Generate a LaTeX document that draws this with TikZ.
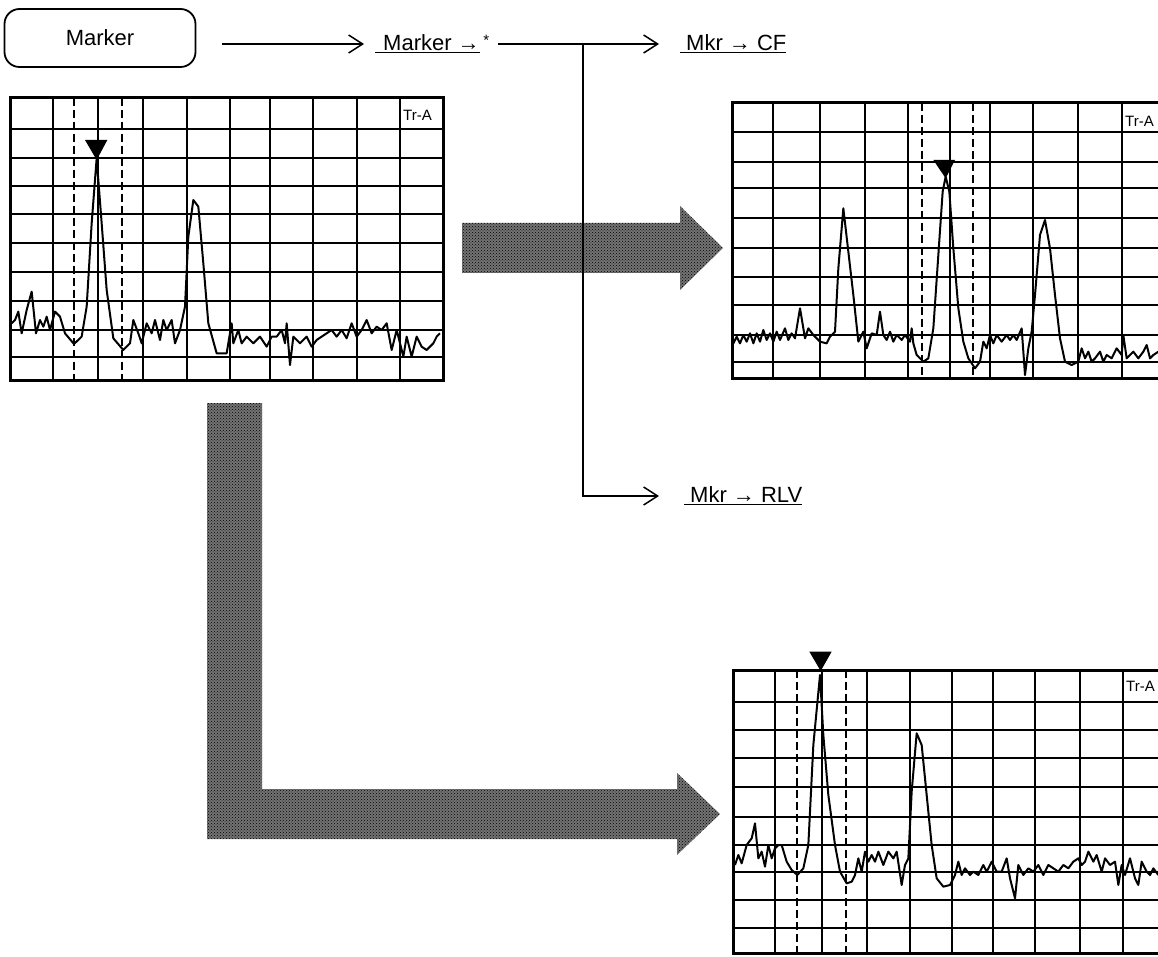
\documentclass[tikz,border=0pt]{standalone}
\usepackage{fontspec}
\setmainfont{Liberation Sans}
\usetikzlibrary{arrows.meta,patterns}
\begin{document}
\begin{tikzpicture}[x=1pt,y=-1pt,
  lbl/.style={font=\fontsize{22}{26}\selectfont, inner sep=0pt, anchor=west},
  mbox/.style={draw, line width=1.8pt, rounded corners=15pt, minimum width=191pt, minimum height=58pt, font=\fontsize{22}{26}\selectfont},
  conn/.style={line width=1.5pt},
  arr/.style={conn, -{Straight Barb[length=14pt,width=18pt,line width=1.5pt]}},
  gridline/.style={line width=2.6pt},
  frame/.style={line width=3pt},
  trace/.style={line width=2pt, line join=round},
  mk/.style={line width=2.4pt, dash pattern=on 8pt off 4pt},
  tra/.style={font=\fontsize{15}{17}\selectfont, inner sep=0pt, anchor=west},
  fat/.style={fill=black!55},
  fattex/.style={pattern=crosshatch dots, pattern color=black}
]
\clip (0,0) rectangle (1158,957);
\fill[white] (0,0) rectangle (1158,957);

% ---------- top row ----------
\node[mbox] (marker) at (100,38) {Marker};
\node[lbl] (mstar) at (375,44) {\underline{\hspace{8pt}Marker →}\,\raisebox{5pt}{\fontsize{15}{17}\selectfont *}};
\node[lbl] (cf) at (680,44) {\underline{\hspace{6pt}Mkr → CF}};
\node[lbl] (rlv) at (684,496) {\underline{\hspace{6pt}Mkr → RLV}};
\coordinate (br) at (583,44);

\draw[arr, shorten <=26pt, shorten >=11pt] (marker.east |- mstar.west) -- (mstar.west);
\draw[conn, shorten <=9pt] (mstar.east) -- (br);
\draw[arr, shorten >=21pt] (br) -- (br -| cf.west);
\draw[arr, shorten >=25pt] (br) |- (rlv.west);

% ---------- fat arrows ----------
\def\fatA{(462,223) -- (680,223) -- (680,206) -- (723,248) -- (680,290) -- (680,273) -- (462,273) -- cycle}
\def\fatB{(207,403) -- (262,403) -- (262,789) -- (677,789) -- (677,773) -- (720,814) -- (677,855) -- (677,839) -- (207,839) -- cycle}
\fill[fat] \fatA;
\fill[fattex] \fatA;
\fill[fat] \fatB;
\fill[fattex] \fatB;
% vertical connector passes over the fat arrow
\draw[conn] (583,200) -- (583,300);

% ---------- graph 1 ----------
\foreach \x in {53,98,143,187,230,270,313,357,400}
  \draw[gridline] (\x,98) -- (\x,380);
\foreach \y in {129,158,186,214,243,272,301,330,357}
  \draw[gridline] (10,\y) -- (443,\y);
\draw[frame] (10,98) rectangle (443,380);
\draw[mk] (74,98) -- (74,380);
\draw[mk] (122,98) -- (122,380);
\node[tra] (tra1) at (403,115) {Tr-A};
\begin{scope}[shift={(0,90)}, scale=1/3]
\draw[trace] (35,700) -- (45,690) -- (55,665) -- (65,730) -- (80,660) -- (95,605) -- (108,730) -- (120,690) -- (130,710) -- (140,680) -- (150,720) -- (165,665) -- (180,680) -- (195,730) -- (222,762) -- (245,740) -- (260,650) -- (275,400) -- (290,205) -- (305,400) -- (320,600) -- (340,745) -- (370,780) -- (390,760) -- (400,690) -- (415,730) -- (425,760) -- (440,700) -- (455,730) -- (465,690) -- (480,750) -- (490,690) -- (500,720) -- (515,690) -- (525,760) -- (540,720) -- (555,650) -- (565,440) -- (580,330) -- (595,350) -- (610,520) -- (625,700) -- (650,790) -- (680,790) -- (695,700) -- (700,760) -- (715,720) -- (725,760) -- (740,740) -- (760,760) -- (780,740) -- (800,770) -- (815,740) -- (830,740) -- (845,720) -- (855,760) -- (860,700) -- (870,825) -- (880,740) -- (900,760) -- (920,740) -- (935,770) -- (950,750) -- (965,740) -- (980,730) -- (995,720) -- (1010,740) -- (1025,720) -- (1040,745) -- (1055,700) -- (1070,740) -- (1085,720) -- (1100,690) -- (1115,730) -- (1130,710) -- (1145,720) -- (1160,700) -- (1175,780) -- (1190,720) -- (1210,800) -- (1220,740) -- (1235,800) -- (1250,740) -- (1265,770) -- (1280,780) -- (1300,760) -- (1310,740) -- (1320,730);
\fill (255,150) -- (322,150) -- (290,210) -- cycle;
\end{scope}

% ---------- graph 2 ----------
\foreach \x in {773,820,865,908,950,990,1033,1078,1122}
  \draw[gridline] (\x,103) -- (\x,378);
\foreach \y in {132,162,188,218,248,277,305,335,362}
  \draw[gridline] (732,\y) -- (1165,\y);
\draw[frame] (732,103) rectangle (1165,378);
\draw[mk] (922,103) -- (922,378);
\draw[mk] (973,103) -- (973,378);
\node[tra] (tra2) at (1125,121) {Tr-A};
\begin{scope}[shift={(720,95)}, scale=1/3]
\draw[trace] (40,745) -- (50,725) -- (60,745) -- (70,720) -- (80,740) -- (90,715) -- (100,745) -- (110,715) -- (120,740) -- (130,705) -- (140,735) -- (150,715) -- (160,740) -- (170,710) -- (180,735) -- (195,700) -- (205,735) -- (215,715) -- (225,730) -- (240,640) -- (255,730) -- (265,700) -- (280,720) -- (300,740) -- (320,745) -- (330,725) -- (345,710) -- (355,520) -- (370,340) -- (385,470) -- (400,600) -- (415,740) -- (430,710) -- (440,760) -- (455,715) -- (470,720) -- (480,650) -- (490,720) -- (500,735) -- (510,710) -- (520,740) -- (530,720) -- (545,735) -- (555,720) -- (570,740) -- (575,700) -- (580,745) -- (590,780) -- (610,800) -- (625,790) -- (640,700) -- (655,480) -- (668,290) -- (677,245) -- (688,290) -- (700,460) -- (715,640) -- (730,740) -- (745,790) -- (765,820) -- (780,800) -- (790,740) -- (800,760) -- (810,720) -- (820,745) -- (830,720) -- (845,740) -- (860,720) -- (870,735) -- (880,720) -- (890,735) -- (905,700) -- (915,840) -- (925,760) -- (935,710) -- (945,600) -- (960,420) -- (975,375) -- (990,460) -- (1005,600) -- (1020,730) -- (1035,800) -- (1055,810) -- (1075,800) -- (1085,760) -- (1095,790) -- (1105,770) -- (1115,800) -- (1125,790) -- (1140,770) -- (1150,800) -- (1160,780) -- (1175,790) -- (1190,760) -- (1205,780) -- (1210,720) -- (1220,790) -- (1240,770) -- (1255,790) -- (1270,770) -- (1280,750) -- (1290,790) -- (1300,780) -- (1315,770);
\fill (640,195) -- (705,195) -- (677,250) -- cycle;
\end{scope}

% ---------- graph 3 ----------
\foreach \x in {775,822,867,910,952,993,1035,1080,1123}
  \draw[gridline] (\x,670) -- (\x,953);
\foreach \y in {702,730,758,787,817,845,872,900,928}
  \draw[gridline] (733,\y) -- (1166,\y);
\draw[frame] (733,670) rectangle (1166,953);
\draw[mk] (797,670) -- (797,953);
\draw[mk] (846,670) -- (846,953);
\node[tra] (tra3) at (1126,686) {Tr-A};
\begin{scope}[shift={(720,645)}, scale=1/3]
\draw[trace] (45,660) -- (55,630) -- (65,655) -- (80,600) -- (95,580) -- (105,535) -- (115,640) -- (125,620) -- (135,665) -- (145,600) -- (155,640) -- (165,610) -- (175,600) -- (185,600) -- (200,650) -- (215,675) -- (232,690) -- (250,670) -- (265,600) -- (280,300) -- (300,90) -- (310,270) -- (325,450) -- (345,600) -- (360,680) -- (380,715) -- (395,710) -- (405,690) -- (415,640) -- (425,680) -- (435,620) -- (445,650) -- (455,630) -- (465,650) -- (475,620) -- (490,660) -- (505,620) -- (520,640) -- (530,620) -- (545,720) -- (555,660) -- (565,640) -- (575,440) -- (590,265) -- (605,300) -- (620,450) -- (635,600) -- (650,700) -- (670,725) -- (690,720) -- (705,690) -- (715,650) -- (725,690) -- (735,670) -- (750,690) -- (760,680) -- (775,690) -- (790,660) -- (800,680) -- (815,650) -- (830,680) -- (845,680) -- (860,640) -- (870,700) -- (885,760) -- (895,660) -- (910,690) -- (925,670) -- (940,680) -- (955,660) -- (970,690) -- (985,660) -- (1000,670) -- (1015,680) -- (1030,660) -- (1045,670) -- (1060,650) -- (1075,640) -- (1085,660) -- (1095,650) -- (1105,620) -- (1120,650) -- (1130,630) -- (1145,680) -- (1155,640) -- (1170,660) -- (1185,650) -- (1195,720) -- (1205,660) -- (1215,690) -- (1230,640) -- (1245,700) -- (1255,720) -- (1265,650) -- (1280,680) -- (1290,690) -- (1300,670) -- (1315,690);
\fill (268,20) -- (335,20) -- (302,78) -- cycle;
\end{scope}
\end{tikzpicture}
\end{document}
